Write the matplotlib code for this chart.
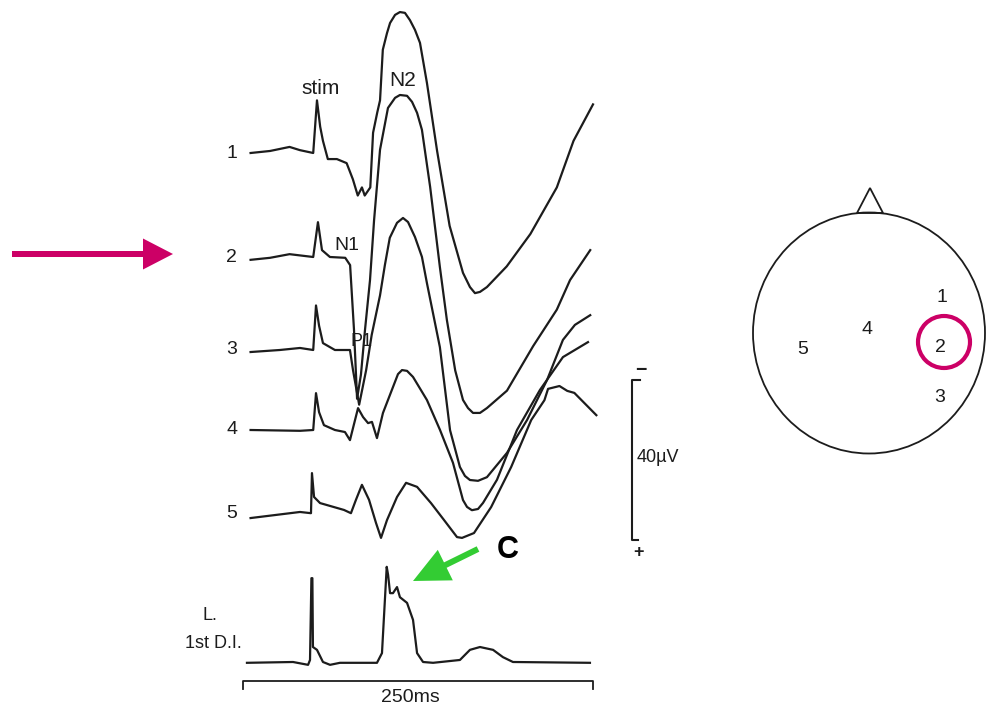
import numpy as np
import matplotlib.pyplot as plt
from matplotlib.patches import Ellipse, Circle, Polygon, FancyArrow

plt.rcParams['font.family'] = ['Liberation Sans', 'DejaVu Sans']

# Evoked potentials, time in ms from stimulus, amplitude in uV (negative up)
t_ch1 = [-47, -33, -19, -11.5, -2, 0.7, 3, 5, 8.5, 15, 22, 26.5, 30, 33, 35, 39, 41, 44, 46, 48,
         51, 53.2, 56.8, 60.3, 63.9, 67.5, 71.1, 74.7, 79.7, 87, 96, 105.6, 110.6, 114.2, 117.8, 122.8,
         137, 154, 173, 185, 199]
v_ch1 = [0, -0.5, -1.5, -0.7, 0, -13, -6.5, -3, 1.5, 1.5, 2.5, 6.5, 10.5, 8.5, 10.5, 8.5, -5, -10, -13, -25.5,
         -29.6, -32.1, -34.1, -34.8, -34.6, -32.8, -30.4, -27.2, -17.3, -0.5, 18, 29.6, 33.1, 34.6, 34.3, 33.1,
         28, 20, 8.5, -3, -12]

t_ch2 = [-47, -33, -19, -2, 1.4, 4.3, 10, 21, 24.5, 27.3, 29.5, 32.3, 35.2, 38.8, 41.7, 46, 51.7, 56.8, 60.3,
         65.4, 69, 72.6, 76.1, 82, 89, 94, 100, 105.6, 109.2, 112.8, 117.8, 122.8, 137.2, 156, 173, 182.5, 197]
v_ch2 = [0.7, 0.2, -0.7, 0, -8.6, -1.7, 0, 0.2, 2, 18, 35, 29, 18, 5.7, -9, -26.5, -36.8, -39.3, -40,
         -39.8, -38.3, -35.6, -31.4, -17.3, 2.5, 15.5, 28, 35.3, 37.3, 38.5, 38.5, 37.3, 33, 22, 13, 5.7, -1.7]

t_ch3 = [-47, -26, -11.5, -2, 0, 2.2, 5, 13.6, 24.4, 26.6, 31, 36, 40, 46, 49.5, 53, 58.2, 62.5,
         66.1, 71.1, 76.1, 79.7, 89, 96.3, 103.4, 107, 110.6, 116.4, 122.8, 137.2, 151.6, 166, 177.4, 186, 197]
v_ch3 = [0.5, 0, -0.5, 0, -11, -6, -1.7, 0, 0, 5, 13.5, 5, -3.7, -13.5, -21, -27.7, -31.4, -32.6,
         -31.6, -27.9, -23, -16.5, -0.7, 19.8, 28.9, 31.1, 32.1, 32.3, 31.4, 25.4, 17.3, 7.4, -2.5, -6.2, -8.6]

t_ch4 = [-47, -11.5, -2, 0, 2.2, 5.7, 13.6, 20.8, 24.4, 30.2, 33.8, 37.4, 40.2, 43.8, 48.1, 55.3, 58.9, 61.8,
         65.4, 69.7, 79.7, 89.1, 98.4, 105.6, 108.5, 112, 116.4, 120, 130, 144.4, 160.9, 177.4, 195.4]
v_ch4 = [0, 0.2, 0, -9.1, -4.4, -1.2, 0, 0.5, 2.5, -5.4, -3.2, -1.7, -2, 2, -4.2, -10.6, -13.8, -14.8,
         -14.6, -13.1, -7.4, 0, 8.1, 17.3, 19, 19.8, 19.5, 18, 12.3, 0, -9.9, -18, -21.7]

t_ch5 = [-47, -11.5, -3.6, -2.9, -1.4, 2.9, 20.1, 25.1, 28.7, 33, 38.1, 43.1, 46.7, 51, 58.2, 64.7,
         72.6, 82.6, 92, 101.3, 104.9, 113.5, 125.8, 140.2, 154.6, 164.1, 166.7, 174.9, 180.5, 185.6, 201.4]
v_ch5 = [1, -0.5, -0.2, -10.1, -4.2, -2.7, -1, -0.2, -3.5, -7.2, -3.5, 2.2, 5.9, 1.5, -4.2, -7.7,
         -6.7, -2.7, 1.5, 5.7, 5.9, 4.7, -1.7, -11.6, -23.2, -28.1, -30.9, -31.6, -30.4, -29.9, -24.4]

# left 1st dorsal interosseous EMG
t_emg = [-49.6, -16.5, -5.7, -4.3, -3.3, -2.6, -2.2, 0.7, 5, 10.1, 17.2, 43.8, 47.4, 50.8, 51.8, 53.2, 55.3,
         58.2, 60.3, 65.4, 69.7, 72.6, 76.9, 84.1, 103.4, 110.6, 117.8, 127.2, 134.3, 141.5, 196.8]
v_emg = [0.2, 0, 0.7, -0.5, -20.7, -20.7, -3.7, -3, 0, 0.7, 0.2, 0.2, -2.2, -23.5, -21.5, -17, -17,
         -18.5, -16, -14.6, -10.4, -2.2, 0, 0.2, -0.5, -3, -3.7, -3, -1.2, 0, 0.2]

channels = ['1', '2', '3', '4', '5']
head_labels = ['1', '2', '3', '4', '5']

# layout (ms / uV space)
PX_MS = 1.392
PX_UV = 4.05
W, H = 986, 708
T0 = 316  # stimulus position in pixels
offsets = [153 / PX_UV, 257 / PX_UV, 350 / PX_UV, 430 / PX_UV, 514 / PX_UV]
emg_offset = 662 / PX_UV
ink = '#1c1c1c'

fig = plt.figure(figsize=(W / 100, H / 100), dpi=100)
ax = fig.add_axes([0, 0, 1, 1])
ax.set_xlim(-T0 / PX_MS, (W - T0) / PX_MS)
ax.set_ylim(H / PX_UV, 0)
ax.axis('off')

traces = [(t_ch1, v_ch1), (t_ch2, v_ch2), (t_ch3, v_ch3), (t_ch4, v_ch4), (t_ch5, v_ch5)]
for (t, v), off, name in zip(traces, offsets, channels):
    ax.plot(t, off + np.array(v), color=ink, lw=1.6, solid_joinstyle='round')
    ax.text(-60.5, off, name, ha='center', va='center', fontsize=14, color=ink)
ax.plot(t_emg, emg_offset + np.array(v_emg), color=ink, lw=1.6, solid_joinstyle='round')

# scale bars
ax.plot([-52.4, -52.4, 199, 199], [689 / PX_UV, 681 / PX_UV, 681 / PX_UV, 689 / PX_UV], color=ink, lw=1.3)
ax.text(67.5, 697 / PX_UV, '250ms', ha='center', va='center', fontsize=14, color=ink)
x_bar = (632 - T0) / PX_MS
ax.plot([x_bar + 6, x_bar, x_bar, x_bar + 4.5], [380 / PX_UV, 380 / PX_UV, 540 / PX_UV, 540 / PX_UV],
        color=ink, lw=1.5)
ax.text(x_bar + 3.5, 458 / PX_UV, '40µV', ha='left', va='center', fontsize=13, color=ink)
ax.text(x_bar + 6, 371 / PX_UV, '−', ha='center', va='center', fontsize=14, color=ink, fontweight='bold')
ax.text(x_bar + 4.5, 552 / PX_UV, '+', ha='center', va='center', fontsize=13, color=ink, fontweight='bold')

# component labels
ax.text(3, 88 / PX_UV, 'stim', ha='center', va='center', fontsize=15, color=ink)
ax.text(62.5, 80 / PX_UV, 'N2', ha='center', va='center', fontsize=15, color=ink)
ax.text(22.5, 246 / PX_UV, 'N1', ha='center', va='center', fontsize=14, color=ink)
ax.text(33, 341 / PX_UV, 'P1', ha='center', va='center', fontsize=13, color=ink)
ax.text((210 - T0) / PX_MS, 616 / PX_UV, 'L.', ha='center', va='center', fontsize=13, color=ink)
ax.text((213 - T0) / PX_MS, 643 / PX_UV, '1st D.I.', ha='center', va='center', fontsize=13, color=ink)

# overlay in pixel units for the head map and arrows
ov = fig.add_axes([0, 0, 1, 1])
ov.set_xlim(0, W)
ov.set_ylim(H, 0)
ov.axis('off')
ov.patch.set_alpha(0)

ov.add_patch(Ellipse((869, 333), 232, 241, fill=False, ec=ink, lw=1.3))
ov.add_patch(Polygon([(857, 213), (870, 188), (883, 213)], closed=True, fill=False, ec=ink, lw=1.3))
head_pos = [(942, 298), (940, 347), (940, 398), (867, 330), (803, 350)]
for lab, (hx, hy) in zip(head_labels, head_pos):
    ov.text(hx, hy, lab, ha='center', va='center', fontsize=14, color=ink)
ov.add_patch(Circle((944, 342), 26, fill=False, ec='#CC0066', lw=3))

ov.add_patch(FancyArrow(12, 254, 161, 0, width=6, head_width=31, head_length=30,
                        length_includes_head=True, color='#CC0066', lw=0))
ov.add_patch(FancyArrow(478, 549, -65, 32, width=6, head_width=34, head_length=36,
                        length_includes_head=True, color='#33CC33', lw=0))
ov.text(508, 550, 'C', ha='center', va='center', fontsize=22, fontweight='bold', color='black')

fig.savefig('out.png', dpi=100, facecolor='white')
